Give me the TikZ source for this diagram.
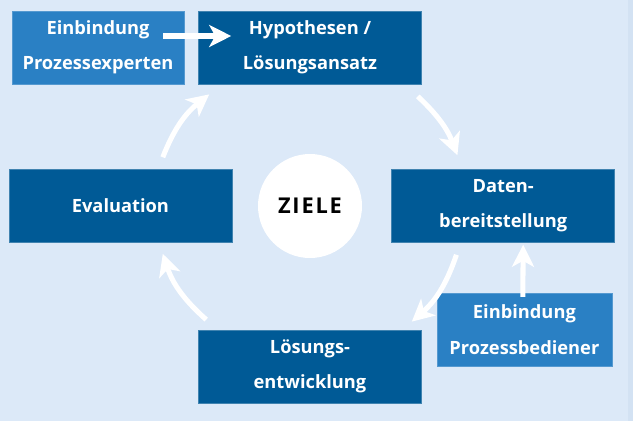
\documentclass[tikz,border=0pt]{standalone}
\usepackage{fontspec}
\setmainfont{Open Sans}
\usetikzlibrary{arrows.meta}
\definecolor{boxblue}{HTML}{005A96}
\definecolor{sideblue}{HTML}{2A80C4}
\definecolor{bgblue}{HTML}{DCE9F8}
\definecolor{edgeblue}{HTML}{D3E2F3}

\begin{document}
\begin{tikzpicture}
  [stepN/.style={rectangle,fill=boxblue,draw=boxblue!75!white,line width=0.4pt,
     text=white,minimum width=5.575cm,minimum height=1.825cm,align=center,
     font=\fontsize{13}{25}\selectfont\bfseries},
   sideN/.style={stepN,fill=sideblue,draw=sideblue!80!white},
   goalN/.style={circle,fill=white,minimum size=2.6cm,
     font=\fontsize{15.5}{18}\selectfont\bfseries},
   flow/.style={white,line width=3.6pt,
     -{Stealth[length=5.5mm,width=5.5mm,inset=1.5mm]}}]

  \fill[bgblue] (-7.75,-5.375) rectangle (8.075,5.15);
  \fill[edgeblue] (7.95,-5.375) rectangle (8.075,5.15);

  \node[goalN] (z) at (0,0) {Z\kern1.3pt I\kern1.3pt E\kern1.3pt L\kern1.3pt E};

  \node[stepN] (h) at (0,3.96)   {Hypothesen /\\Lösungsansatz};
  \node[stepN] (d) at (4.83,0)   {Daten-\\bereitstellung};
  \node[stepN] (l) at (0,-4.01)  {Lösungs-\\entwicklung};
  \node[stepN] (e) at (-4.74,0)  {Evaluation};

  \node[sideN,minimum width=4.3cm]   (pe) at (-5.3,3.96)  {Einbindung\\Prozessexperten};
  \node[sideN,minimum width=4.375cm] (pb) at (5.36,-3.09) {Einbindung\\Prozessbediener};

  \draw [flow] ([shift={(1.06,0.3)}]e.north) to[bend left=15] ([shift={(0.275,-0.25)}]h.south west);
  \draw [flow] ([shift={(-0.1,-0.3)}]h.south east) to[bend left=13] ([shift={(1.65,0.35)}]d.north west);
  \draw [flow] ([shift={(1.625,-0.3)}]d.south west) to[bend left=15] ([shift={(-0.25,0.2)}]l.north east);
  \draw [flow] ([shift={(0.2,0.25)}]l.north west) to[bend left=15] ([shift={(1.06,-0.275)}]e.south);

  \draw [flow] ([shift={(-0.525,0.29)}]pe.east) -- ([shift={(0.825,0.29)}]h.west);
  \draw [flow] ([shift={(-0.04,-0.1)}]pb.north) -- ([shift={(0.5,-0.05)}]d.south);
\end{tikzpicture}
\end{document}
